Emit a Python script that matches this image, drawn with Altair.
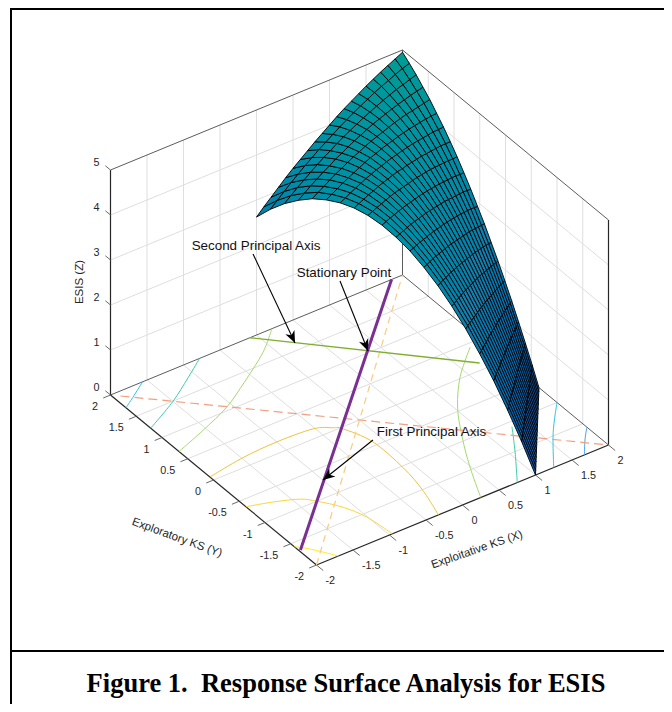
import math
import pandas as pd
import altair as alt

# ---------- axes ----------
TICKS_XY = [-2, -1.5, -1, -0.5, 0, 0.5, 1, 1.5, 2]
TICKS_Z = [0, 1, 2, 3, 4, 5]
TICK_LABELS_XY = ["-2", "-1.5", "-1", "-0.5", "0", "0.5", "1", "1.5", "2"]
TICK_LABELS_Z = ["0", "1", "2", "3", "4", "5"]

# ---------- surface corners (x, y), left/right ends of the first and last mesh rows ----------
CORNER_A = (0.0, 2.0)
CORNER_B = (2.0, 2.0)
CORNER_C = (2.0, -0.65)
CORNER_D = (1.0, -2.0)

# ---------- ESIS surface heights ----------
Z_TABLE = [
    [2.62, 2.78, 2.93, 3.08, 3.23, 3.37, 3.50, 3.63, 3.76, 3.88, 4.00, 4.12, 4.23, 4.33, 4.43, 4.53, 4.62, 4.71, 4.79, 4.87, 4.95],
    [2.95, 3.08, 3.21, 3.34, 3.46, 3.58, 3.69, 3.80, 3.90, 4.00, 4.10, 4.19, 4.28, 4.36, 4.44, 4.52, 4.59, 4.65, 4.72, 4.78, 4.83],
    [3.23, 3.34, 3.45, 3.55, 3.65, 3.75, 3.84, 3.92, 4.01, 4.09, 4.16, 4.23, 4.30, 4.36, 4.42, 4.48, 4.53, 4.58, 4.62, 4.66, 4.70],
    [3.46, 3.55, 3.64, 3.72, 3.80, 3.87, 3.95, 4.01, 4.08, 4.14, 4.19, 4.25, 4.30, 4.34, 4.38, 4.42, 4.45, 4.48, 4.51, 4.53, 4.55],
    [3.65, 3.72, 3.78, 3.85, 3.91, 3.96, 4.02, 4.07, 4.11, 4.16, 4.20, 4.23, 4.26, 4.29, 4.32, 4.34, 4.36, 4.37, 4.38, 4.39, 4.40],
    [3.78, 3.83, 3.88, 3.93, 3.97, 4.01, 4.05, 4.09, 4.12, 4.14, 4.17, 4.19, 4.20, 4.22, 4.23, 4.24, 4.24, 4.24, 4.24, 4.23, 4.22],
    [3.87, 3.90, 3.94, 3.97, 4.00, 4.03, 4.05, 4.07, 4.08, 4.10, 4.11, 4.11, 4.12, 4.12, 4.12, 4.11, 4.10, 4.09, 4.08, 4.06, 4.04],
    [3.91, 3.93, 3.95, 3.97, 3.98, 4.00, 4.01, 4.01, 4.02, 4.02, 4.01, 4.01, 4.00, 3.99, 3.98, 3.96, 3.94, 3.92, 3.90, 3.87, 3.84],
    [3.90, 3.91, 3.92, 3.92, 3.93, 3.93, 3.93, 3.92, 3.91, 3.90, 3.89, 3.88, 3.86, 3.84, 3.82, 3.79, 3.76, 3.73, 3.70, 3.66, 3.63],
    [3.84, 3.84, 3.84, 3.83, 3.83, 3.82, 3.81, 3.79, 3.78, 3.76, 3.74, 3.72, 3.69, 3.66, 3.63, 3.60, 3.56, 3.53, 3.49, 3.44, 3.40],
    [3.73, 3.72, 3.71, 3.70, 3.69, 3.67, 3.65, 3.63, 3.61, 3.58, 3.55, 3.52, 3.49, 3.46, 3.42, 3.38, 3.34, 3.30, 3.26, 3.21, 3.16],
    [3.58, 3.56, 3.54, 3.53, 3.50, 3.48, 3.46, 3.43, 3.40, 3.37, 3.34, 3.30, 3.27, 3.23, 3.19, 3.15, 3.10, 3.06, 3.01, 2.96, 2.90],
    [3.37, 3.35, 3.33, 3.31, 3.28, 3.25, 3.22, 3.19, 3.16, 3.13, 3.09, 3.05, 3.01, 2.97, 2.93, 2.89, 2.84, 2.79, 2.74, 2.69, 2.64],
    [3.12, 3.10, 3.07, 3.04, 3.02, 2.99, 2.95, 2.92, 2.89, 2.85, 2.81, 2.77, 2.73, 2.69, 2.65, 2.60, 2.56, 2.51, 2.46, 2.41, 2.35],
    [2.82, 2.79, 2.77, 2.74, 2.71, 2.68, 2.65, 2.61, 2.58, 2.54, 2.51, 2.47, 2.43, 2.39, 2.34, 2.30, 2.25, 2.21, 2.16, 2.11, 2.06],
    [2.47, 2.45, 2.42, 2.39, 2.36, 2.33, 2.30, 2.27, 2.24, 2.20, 2.17, 2.13, 2.09, 2.05, 2.01, 1.97, 1.93, 1.89, 1.84, 1.80, 1.75],
    [2.07, 2.05, 2.02, 2.00, 1.97, 1.94, 1.92, 1.89, 1.86, 1.83, 1.79, 1.76, 1.73, 1.69, 1.66, 1.62, 1.58, 1.55, 1.51, 1.47, 1.43],
    [1.63, 1.61, 1.59, 1.56, 1.54, 1.52, 1.49, 1.47, 1.44, 1.42, 1.39, 1.36, 1.34, 1.31, 1.28, 1.25, 1.22, 1.19, 1.16, 1.12, 1.09],
    [1.13, 1.12, 1.10, 1.09, 1.07, 1.05, 1.03, 1.02, 1.00, 0.98, 0.96, 0.94, 0.92, 0.90, 0.88, 0.86, 0.83, 0.81, 0.79, 0.77, 0.74],
    [0.59, 0.58, 0.57, 0.56, 0.56, 0.55, 0.54, 0.53, 0.52, 0.51, 0.50, 0.48, 0.47, 0.46, 0.45, 0.44, 0.43, 0.42, 0.40, 0.39, 0.38],
    [0.00] * 21,
]

# ---------- floor contours: (x, y) points ----------
CONTOURS = {
    "#45a6ea": [(2.00, -1.58), (1.84, -1.77), (1.67, -2.00)],
    "#2cc4dc": [(2.00, -1.00), (1.63, -1.45), (1.25, -2.00)],
    "#3dcbaa": [(1.32, -1.09), (1.06, -1.52), (0.75, -2.00)],
    "#a6d96a": [(1.82, 0.43), (1.40, 0.03), (1.04, -0.43), (0.75, -0.93), (0.49, -1.45), (0.25, -2.00)],
    "#f0c23c": [(-2.00, 0.07), (-1.49, 0.16), (-1.00, 0.19), (-0.52, 0.16), (-0.33, 0.05), (-0.25, -0.03),
                (-0.12, -0.43), (-0.13, -1.04), (-0.20, -1.51), (-0.33, -2.00)],
    "#f8d83a": [(-2.00, -0.63), (-1.70, -0.73), (-1.42, -0.86), (-1.29, -1.00), (-1.12, -1.26), (-1.01, -1.57), (-0.96, -2.00)],
    "#f8f020": [(-2.00, -1.57), (-1.88, -1.71), (-1.70, -2.00)],
    "#2fc8da": [(-1.56, 2.00), (-1.82, 1.82), (-2.00, 1.70)],
    "#3fcab0": [(-0.78, 2.00), (-1.10, 1.77), (-1.51, 1.49), (-2.00, 1.22)],
    "#a8d96f": [(0.21, 2.00), (-0.14, 1.68), (-0.63, 1.34), (-1.07, 1.06), (-1.54, 0.85), (-2.00, 0.67)],
}

# ---------- straight lines on the floor ----------
PURPLE_AXIS = [(-1.98, -1.66), (1.85, 2.00)]
GREEN_AXIS = [(-0.09, 2.00), (1.73, 0.12)]
SALMON_DASH = [(-1.92, 1.92), (2.00, -2.00)]
ORANGE_DASH = [(-2.00, -2.00), (2.00, 2.00)]

# ---------- annotations, anchored in floor coordinates ----------
ANNOTATION_TEXT = ["Second Principal Axis", "Stationary Point", "First Principal Axis"]
ANNOTATION_POS = [(0.982, 3.401), (1.487, 2.409), (0.525, -0.653)]
ARROW_TAIL = [(0.866, 3.295), (1.362, 2.309), (-0.098, -0.401)]
ARROW_HEAD = [(0.264, 1.626), (0.842, 1.028), (-0.999, -0.707)]

AXIS_TITLES = ["Exploitative KS (X)", "Exploratory KS (Y)", "ESIS (Z)"]
AXIS_TITLE_POS = [(-0.366, -2.80), (-2.977, -0.675), (-1.027, 3.972)]
AXIS_TITLE_ANGLE = [341, 20, 270]

CAPTION = "Figure 1.\u00a0\u00a0Response Surface Analysis for ESIS"


def project(x, y, z=0.0):
    return (359.5 + 73.0 * x - 51.5 * y, 420.0 - 30.0 * x - 42.5 * y - 45.0 * z)


X_SCALE = alt.Scale(domain=[8, 664], nice=False, zero=False)
Y_SCALE = alt.Scale(domain=[704, 8], nice=False, zero=False)
PX = alt.X("sx:Q", scale=X_SCALE, axis=None)
PY = alt.Y("sy:Q", scale=Y_SCALE, axis=None)


def seg(p, q, color, width):
    a, b = project(*p), project(*q)
    return {"sx": a[0], "sy": a[1], "sx2": b[0], "sy2": b[1], "c": color, "w": width}


def rules(rows, **mark):
    return alt.Chart(pd.DataFrame(rows)).mark_rule(**mark).encode(
        x=PX, y=PY, x2="sx2:Q", y2="sy2:Q",
        stroke=alt.Stroke("c:N", scale=None),
        strokeWidth=alt.StrokeWidth("w:Q", scale=None),
    )


# grid lines
GRID = "#dedede"
grid_rows = []
for t in TICKS_XY[1:-1]:
    grid_rows.append(seg((t, -2, 0), (t, 2, 0), GRID, 1))
    grid_rows.append(seg((-2, t, 0), (2, t, 0), GRID, 1))
    grid_rows.append(seg((t, 2, 0), (t, 2, 5), GRID, 1))
    grid_rows.append(seg((2, t, 0), (2, t, 5), GRID, 1))
for t in TICKS_Z[1:-1]:
    grid_rows.append(seg((-2, 2, t), (2, 2, t), GRID, 1))
    grid_rows.append(seg((2, 2, t), (2, -2, t), GRID, 1))

# box
BACK = "#5c5c5c"
FRONT = "#262626"
box_rows = [
    seg((-2, 2, 0), (2, 2, 0), BACK, 1),
    seg((2, 2, 0), (2, -2, 0), BACK, 1),
    seg((2, 2, 0), (2, 2, 5), BACK, 1),
    seg((-2, 2, 5), (2, 2, 5), BACK, 1),
    seg((2, 2, 5), (2, -2, 5), BACK, 1),
    seg((-2, 2, 0), (-2, 2, 5), FRONT, 1.2),
    seg((2, -2, 0), (2, -2, 5), FRONT, 1.2),
    seg((-2, 2, 0), (-2, -2, 0), FRONT, 1.2),
    seg((-2, -2, 0), (2, -2, 0), FRONT, 1.2),
]
TICK_COL = "#6a6a6a"
for t in TICKS_XY:
    box_rows.append(seg((t, -2, 0), (t, -2.13, 0), TICK_COL, 1))
    box_rows.append(seg((-2, t, 0), (-2.1, t, 0), TICK_COL, 1))
for t in TICKS_Z:
    box_rows.append(seg((-2, 2, t), (-2, 2.1, t), TICK_COL, 1))

# contours
contour_rows = []
for cid, (col, pts) in enumerate(CONTOURS.items()):
    for k, (x, y) in enumerate(pts):
        sx, sy = project(x, y)
        contour_rows.append({"sx": sx, "sy": sy, "id": cid, "k": k, "c": col})
contours = alt.Chart(pd.DataFrame(contour_rows)).mark_line(strokeWidth=1, interpolate="cardinal").encode(
    x=PX, y=PY, detail="id:N", order="k:Q", stroke=alt.Stroke("c:N", scale=None)
)

dash_rows = [seg(SALMON_DASH[0] + (0,), SALMON_DASH[1] + (0,), "#f0a080", 1.2)]
dash2_rows = [seg(ORANGE_DASH[0] + (0,), ORANGE_DASH[1] + (0,), "#f8cc80", 1.2)]
axis_rows = [
    seg(GREEN_AXIS[0] + (0,), GREEN_AXIS[1] + (0,), "#7fae2e", 1.4),
    seg(PURPLE_AXIS[0] + (0,), PURPLE_AXIS[1] + (0,), "#7a2f92", 3),
]

# surface quads, far ones first so that nearer ones cover them
N = len(Z_TABLE) - 1
M = len(Z_TABLE[0]) - 1


def node(i, j):
    u, v = i / M, j / N
    x = (1 - v) * ((1 - u) * CORNER_A[0] + u * CORNER_B[0]) + v * ((1 - u) * CORNER_D[0] + u * CORNER_C[0])
    y = (1 - v) * ((1 - u) * CORNER_A[1] + u * CORNER_B[1]) + v * ((1 - u) * CORNER_D[1] + u * CORNER_C[1])
    return x, y, Z_TABLE[j][i]


quads = []
for j in range(N):
    for i in range(M):
        corners = [node(i, j), node(i + 1, j), node(i + 1, j + 1), node(i, j + 1)]
        mx = sum(c[0] for c in corners) / 4
        my = sum(c[1] for c in corners) / 4
        mz = sum(c[2] for c in corners) / 4
        quads.append((-2317 * mx - 3285 * my + 4647 * mz, mz, corners))
quads.sort(key=lambda q: q[0])

surface_rows = []
for qid, (_, mz, corners) in enumerate(quads):
    for k, c in enumerate(corners + corners[:1]):
        sx, sy = project(*c)
        surface_rows.append({"sx": sx, "sy": sy, "q": qid, "k": k, "zc": mz})

surface = alt.Chart(pd.DataFrame(surface_rows)).mark_line(stroke="#000000", strokeWidth=1.0, strokeOpacity=0.9).encode(
    x=PX, y=PY, detail="q:N", order="k:Q",
    fill=alt.Fill("zc:Q", legend=None,
                  scale=alt.Scale(domain=[0, 2.5, 5], range=["#1f55b0", "#167fae", "#009c94"])),
)

# tick labels
FONT = "Liberation Sans"
TXT = "#262626"
lab_x = []
lab_y = []
lab_z = []
for t, s in zip(TICKS_XY, TICK_LABELS_XY):
    a = project(t, -2)
    lab_x.append({"sx": a[0], "sy": a[1], "t": s})
    b = project(-2, t)
    lab_y.append({"sx": b[0], "sy": b[1], "t": s})
for t, s in zip(TICKS_Z, TICK_LABELS_Z):
    c = project(-2, 2, t)
    lab_z.append({"sx": c[0], "sy": c[1], "t": s})


def labels(rows, **mark):
    return alt.Chart(pd.DataFrame(rows)).mark_text(font=FONT, fontSize=10.8, color=TXT, baseline="middle", **mark).encode(
        x=PX, y=PY, text="t:N"
    )


tx = labels(lab_x, align="left", dx=9, dy=16)
ty = labels(lab_y, align="right", dx=-12.5, dy=12)
tz = labels(lab_z, align="center", dx=-14, dy=-7)

# axis titles
title_layers = []
for text, pos, angle in zip(AXIS_TITLES, AXIS_TITLE_POS, AXIS_TITLE_ANGLE):
    s = project(*pos)
    title_layers.append(
        alt.Chart(pd.DataFrame([{"sx": s[0], "sy": s[1], "t": text}])).mark_text(
            font=FONT, fontSize=11.5, color=TXT, angle=angle, baseline="middle"
        ).encode(x=PX, y=PY, text="t:N")
    )

# annotations
ann_rows = []
arrow_rows = []
head_rows = []
for txt, p, tail, head in zip(ANNOTATION_TEXT, ANNOTATION_POS, ARROW_TAIL, ARROW_HEAD):
    s = project(*p)
    ann_rows.append({"sx": s[0], "sy": s[1], "t": txt})
    arrow_rows.append(seg(tail + (0,), head + (0,), "#000000", 1.1))
    a, b = project(*tail), project(*head)
    head_rows.append({"sx": b[0], "sy": b[1], "ang": math.degrees(math.atan2(b[0] - a[0], a[1] - b[1])) % 360})

ann = alt.Chart(pd.DataFrame(ann_rows)).mark_text(font=FONT, fontSize=13.4, color="#111111", baseline="middle").encode(
    x=PX, y=PY, text="t:N"
)
heads = alt.Chart(pd.DataFrame(head_rows)).mark_point(
    shape="M0,0 L0.5,1.2 L0,0.85 L-0.5,1.2 Z", filled=True, color="#000000", opacity=1, size=400
).encode(x=PX, y=PY, angle=alt.Angle("ang:Q", scale=None))

# figure frame and caption
frame = alt.Chart(pd.DataFrame([
    {"sx": 11, "sy": 9, "sx2": 11, "sy2": 704, "c": "#000000", "w": 2},
    {"sx": 10, "sy": 651, "sx2": 664, "sy2": 651, "c": "#000000", "w": 2},
    {"sx": 10, "sy": 9, "sx2": 664, "sy2": 9, "c": "#000000", "w": 2},
])).mark_rule().encode(
    x=PX, y=PY, x2="sx2:Q", y2="sy2:Q",
    stroke=alt.Stroke("c:N", scale=None), strokeWidth=alt.StrokeWidth("w:Q", scale=None),
)
caption = alt.Chart(pd.DataFrame([{"sx": 346, "sy": 684, "t": CAPTION}])).mark_text(
    font="Liberation Serif", fontSize=26.5, fontWeight="bold", color="#000000", baseline="middle"
).encode(x=PX, y=PY, text="t:N")

chart = alt.layer(
    frame, caption,
    rules(grid_rows), rules(box_rows),
    contours,
    rules(dash_rows, strokeDash=[9, 5]), rules(dash2_rows, strokeDash=[7, 5]),
    rules(axis_rows),
    surface,
    tx, ty, tz, *title_layers,
    rules(arrow_rows), heads, ann,
).properties(
    width=656, height=696, padding=0, background="white",
    autosize=alt.AutoSizeParams(type="none"),
).configure_view(stroke=None)

chart.save("out.html", embed_options={"renderer": "svg", "actions": False})
